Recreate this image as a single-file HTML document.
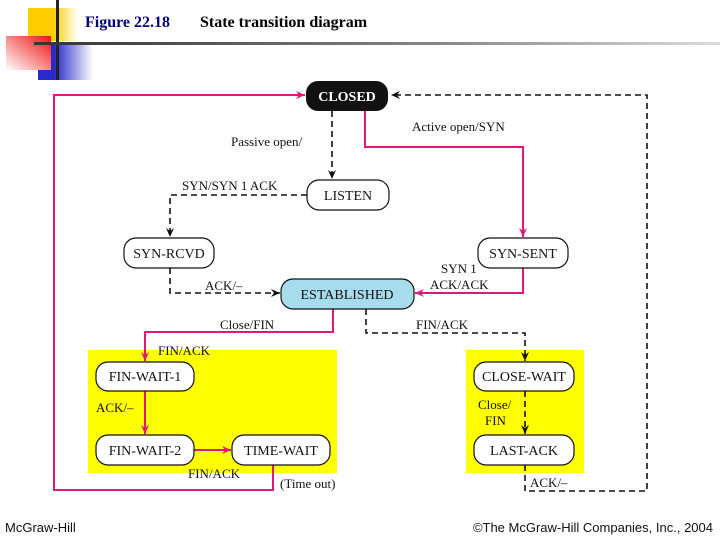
<!DOCTYPE html>
<html><head><meta charset="utf-8"><style>
html,body{margin:0;padding:0;background:#fff;width:720px;height:540px;overflow:hidden}
svg{display:block}
.t{font-family:"Liberation Serif",serif;font-size:13px;fill:#111}
.n{font-family:"Liberation Serif",serif;font-size:14px;fill:#111;text-anchor:middle}
</style></head><body>
<svg width="720" height="540" viewBox="0 0 720 540" xmlns="http://www.w3.org/2000/svg">
<defs>
<linearGradient id="gy" x1="0" x2="1"><stop offset="0.5" stop-color="#ffcc00"/><stop offset="1" stop-color="#fff"/></linearGradient>
<linearGradient id="gb" x1="0" x2="1"><stop offset="0.3" stop-color="#2a2acc"/><stop offset="1" stop-color="#fff"/></linearGradient>
<linearGradient id="gr" x1="1" y1="0" x2="0" y2="1"><stop offset="0" stop-color="#ee1111"/><stop offset="1" stop-color="#fff"/></linearGradient>
<linearGradient id="gl" x1="0" x2="1"><stop offset="0" stop-color="#333"/><stop offset="0.6" stop-color="#888"/><stop offset="1" stop-color="#ddd"/></linearGradient>
<marker id="ap" markerWidth="10" markerHeight="10" refX="9" refY="5" orient="auto" markerUnits="userSpaceOnUse"><path d="M0,1 L9,5 L0,9 L3,5z" fill="#e0187a"/></marker>
<marker id="ak" markerWidth="10" markerHeight="10" refX="9" refY="5" orient="auto" markerUnits="userSpaceOnUse"><path d="M0,1 L9,5 L0,9 L3,5z" fill="#111"/></marker>
</defs>
<!-- header decoration -->
<rect x="28" y="8" width="50" height="33" fill="url(#gy)"/>
<rect x="38" y="42" width="55" height="38" fill="url(#gb)"/>
<rect x="6" y="36" width="45" height="34" fill="url(#gr)"/>
<rect x="56" y="0" width="3" height="80" fill="#222"/>
<rect x="34" y="42" width="686" height="3" fill="url(#gl)"/>
<text x="85" y="27" font-family="Liberation Serif,serif" font-weight="bold" font-size="16" fill="#000080">Figure 22.18</text>
<text x="200" y="27" font-family="Liberation Serif,serif" font-weight="bold" font-size="16" fill="#000">State transition diagram</text>

<!-- yellow areas -->
<rect x="88" y="350" width="249" height="123" fill="#ffff00"/>
<rect x="466" y="350" width="118" height="123" fill="#ffff00"/>

<!-- pink connectors -->
<g stroke="#e0187a" stroke-width="2" fill="none">
<polyline points="273,465 273,490 54,490 54,95 305,95" marker-end="url(#ap)"/>
<polyline points="365,111 365,147 523,147 523,237" marker-end="url(#ap)"/>
<polyline points="523,268 523,293 415,293" marker-end="url(#ap)"/>
<polyline points="333,309 333,332 145,332 145,361" marker-end="url(#ap)"/>
<polyline points="145,391 145,434" marker-end="url(#ap)"/>
<polyline points="194,450 231,450" marker-end="url(#ap)"/>
</g>
<!-- dashed connectors -->
<g stroke="#111" stroke-width="1.6" fill="none" stroke-dasharray="6,4">
<polyline points="525,465 525,491 647,491 647,95 391,95" marker-end="url(#ak)"/>
<polyline points="332,111 332,179" marker-end="url(#ak)"/>
<polyline points="307,195 170,195 170,237" marker-end="url(#ak)"/>
<polyline points="170,268 170,293 280,293" marker-end="url(#ak)"/>
<polyline points="366,309 366,333 525,333 525,361" marker-end="url(#ak)"/>
<polyline points="525,391 525,434" marker-end="url(#ak)"/>
</g>

<!-- nodes -->
<rect x="306" y="81" width="82" height="30" rx="12" fill="#111"/>
<text x="347" y="101" text-anchor="middle" font-family="Liberation Serif,serif" font-weight="bold" font-size="14" fill="#fff">CLOSED</text>
<g stroke="#111" stroke-width="1.2" fill="#fff">
<rect x="307" y="180" width="82" height="30" rx="12"/>
<rect x="124" y="238" width="90" height="30" rx="12"/>
<rect x="478" y="238" width="90" height="30" rx="12"/>
<rect x="281" y="279" width="133" height="30" rx="12" fill="#a6dcec"/>
<rect x="96" y="362" width="98" height="29" rx="12"/>
<rect x="96" y="435" width="98" height="30" rx="12"/>
<rect x="232" y="435" width="98" height="30" rx="12"/>
<rect x="474" y="362" width="100" height="29" rx="12"/>
<rect x="474" y="435" width="100" height="30" rx="12"/>
</g>
<text class="n" x="348" y="200">LISTEN</text>
<text class="n" x="169" y="258">SYN-RCVD</text>
<text class="n" x="523" y="258">SYN-SENT</text>
<text class="n" x="347" y="299">ESTABLISHED</text>
<text class="n" x="145" y="381">FIN-WAIT-1</text>
<text class="n" x="145" y="455">FIN-WAIT-2</text>
<text class="n" x="281" y="455">TIME-WAIT</text>
<text class="n" x="524" y="381">CLOSE-WAIT</text>
<text class="n" x="524" y="455">LAST-ACK</text>

<!-- labels -->
<text class="t" x="231" y="146">Passive open/</text>
<text class="t" x="412" y="131">Active open/SYN</text>
<text class="t" x="182" y="190">SYN/SYN 1 ACK</text>
<text class="t" x="205" y="290">ACK/–</text>
<text class="t" x="441" y="273">SYN 1</text>
<text class="t" x="430" y="289">ACK/ACK</text>
<text class="t" x="220" y="329">Close/FIN</text>
<text class="t" x="416" y="329">FIN/ACK</text>
<text class="t" x="158" y="355">FIN/ACK</text>
<text class="t" x="96" y="412">ACK/–</text>
<text class="t" x="188" y="478">FIN/ACK</text>
<text class="t" x="280" y="488">(Time out)</text>
<text class="t" x="478" y="409" font-family="Liberation Sans,sans-serif" font-size="12">Close/</text>
<text class="t" x="485" y="425">FIN</text>
<text class="t" x="530" y="487">ACK/–</text>

<!-- footer -->
<text x="5" y="532" font-family="Liberation Sans,sans-serif" font-size="13" fill="#111">McGraw-Hill</text>
<text x="713" y="532" text-anchor="end" font-family="Liberation Sans,sans-serif" font-size="13" fill="#111">©The McGraw-Hill Companies, Inc., 2004</text>
</svg>
</body></html>
